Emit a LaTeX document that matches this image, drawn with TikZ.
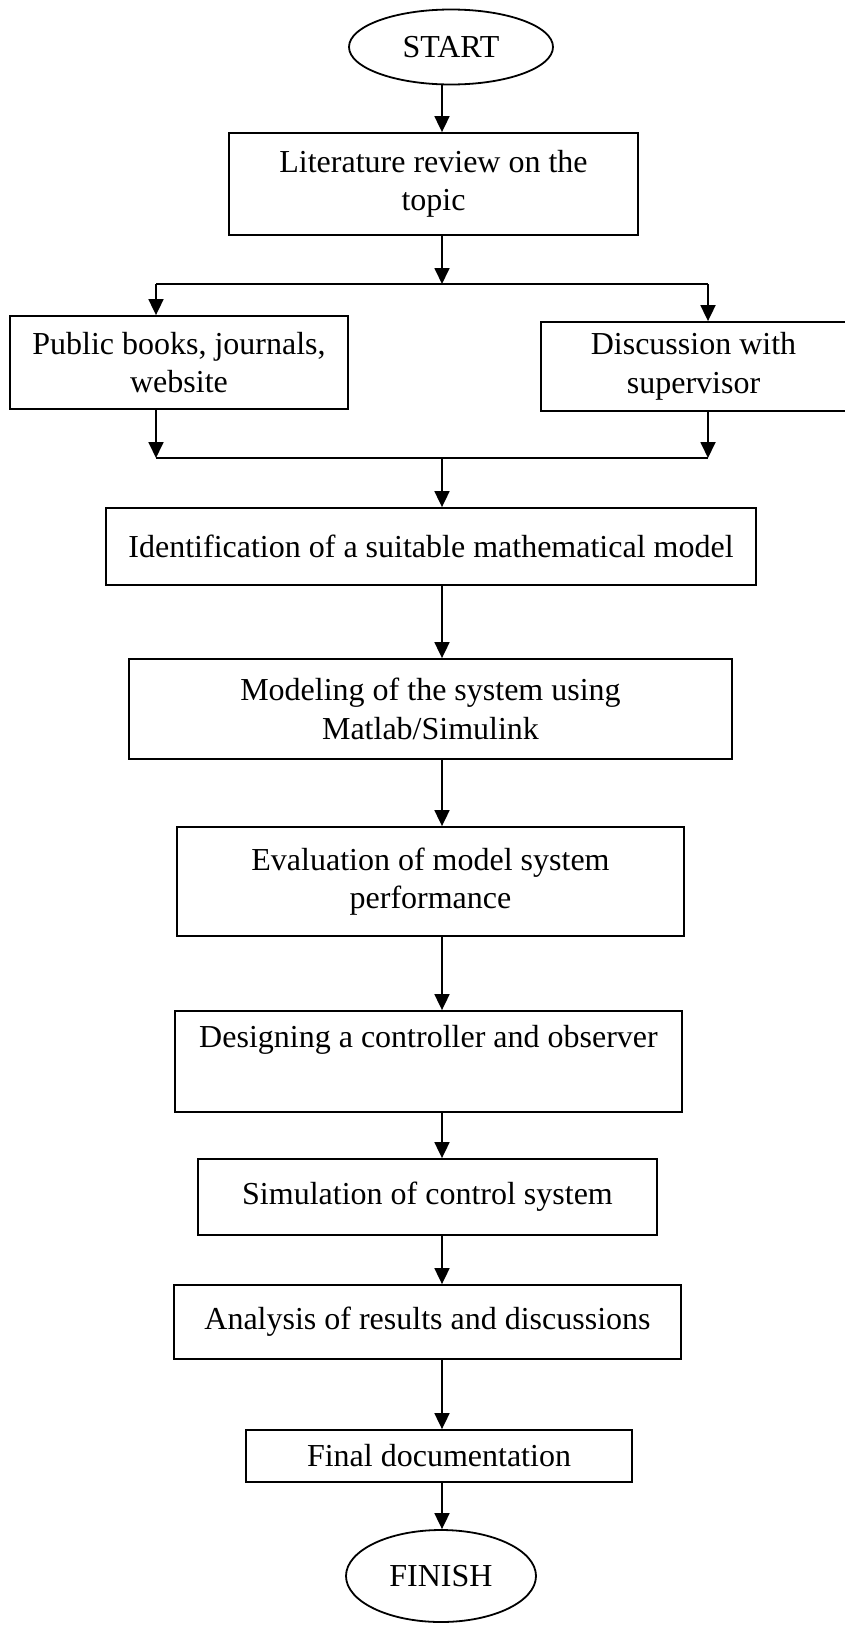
\documentclass[tikz,border=0pt]{standalone}
\usepackage{fontspec}
\setmainfont{Liberation Serif}
\usetikzlibrary{shapes.geometric,arrows.meta}
\tikzset{
	stepbox/.style={draw, line width=1.8pt, align=center, inner sep=0pt},
	termnode/.style={draw, ellipse, line width=1.8pt, inner sep=0pt},
	flow/.style={line width=1.8pt, -{Triangle[length=16pt,width=15pt]}}
}
\begin{document}
\begin{tikzpicture}[x=1pt, y=-1pt, font=\fontsize{32}{38.5}\selectfont]
		\useasboundingbox (0,0) rectangle (844,1625);
		\coordinate (spine) at (442,0);
		\node[termnode, minimum width=204pt, minimum height=75pt] (start) at (451,47) {START};
		\node[stepbox, minimum width=409pt, minimum height=102pt] (lit) at (433.5,184) {Literature review on the\\topic};
		\node[stepbox, minimum width=338pt, minimum height=93pt] (pub) at (179,362.5) {Public books, journals,\\website};
		\node[stepbox, minimum width=305pt, minimum height=89pt] (disc) at (693.5,366.5) {Discussion with\\supervisor};
		\node[stepbox, minimum width=650pt, minimum height=77pt] (ident) at (431,546.5) {Identification of a suitable mathematical model};
		\node[stepbox, minimum width=603pt, minimum height=100pt] (model) at (430.5,709) {Modeling of the system using\\Matlab/Simulink};
		\node[stepbox, minimum width=507pt, minimum height=109pt] (eval) at (430.5,881.5) {Evaluation of model system\\performance};
		\node[stepbox, minimum width=507pt, minimum height=101pt] (design) at (428.5,1061.5) {Designing a controller and observer\\\strut};
		\node[stepbox, minimum width=459pt, minimum height=76pt] (sim) at (427.5,1197) {Simulation of control system};
		\node[stepbox, minimum width=507pt, minimum height=74pt] (anal) at (427.5,1322) {Analysis of results and discussions};
		\node[stepbox, minimum width=386pt, minimum height=52pt] (final) at (439,1456) {Final documentation};
		\node[termnode, minimum width=190pt, minimum height=92pt] (finish) at (441,1576) {FINISH};
		% split and merge around the two sources
		\coordinate (splitL) at (156,284);
		\coordinate (splitR) at (708,284);
		\coordinate (mergeL) at (156,458);
		\coordinate (mergeR) at (708,458);
		\draw[flow] (start.south -| spine) -- (lit.north -| spine);
		\draw[flow] (lit.south -| spine) -- (spine |- splitL);
		\draw[line width=1.8pt] (splitL) -- (splitR);
		\draw[flow] (splitL) -- (splitL |- pub.north);
		\draw[flow] (splitR) -- (splitR |- disc.north);
		\draw[flow] (pub.south -| mergeL) -- (mergeL);
		\draw[flow] (disc.south -| mergeR) -- (mergeR);
		\draw[line width=1.8pt] (mergeL) -- (mergeR);
		\draw[flow] (spine |- mergeL) -- (ident.north -| spine);
		\foreach \a/\b in {ident/model,model/eval,eval/design,design/sim,sim/anal,anal/final,final/finish}
			\draw[flow] (\a.south -| spine) -- (\b.north -| spine);
	\end{tikzpicture}
\end{document}
